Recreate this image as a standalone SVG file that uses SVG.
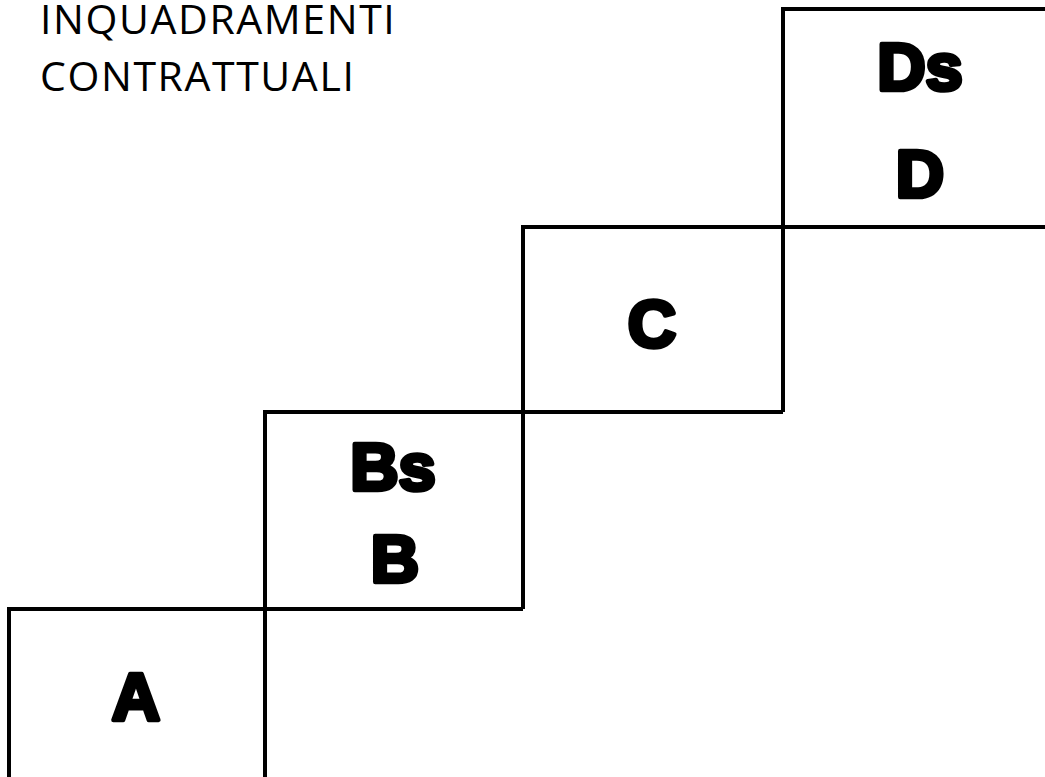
<svg xmlns="http://www.w3.org/2000/svg" width="1045" height="777" viewBox="0 0 1045 777">
<style>
.ln{fill:none;stroke:#000;stroke-width:4;stroke-linecap:butt}
.title{font-family:"Open Sans","Liberation Sans",sans-serif;font-size:41px;letter-spacing:1.6px;fill:#000}
.lbl{font-family:"Liberation Sans","DejaVu Sans",sans-serif;font-weight:bold;font-size:67px;fill:#000;stroke:#000;stroke-width:4.5;stroke-linejoin:round;text-anchor:middle}
</style>
<rect width="1045" height="777" fill="#fff"/>
<g id="title">
<text class="title" x="40" y="34">INQUADRAMENTI</text>
<text class="title" x="40" y="91">CONTRATTUALI</text>
</g>
<g id="connectors">
<polyline class="ln" points="9,777 9,609 523,609"/>
<polyline class="ln" points="265,777 265,412 783,412"/>
<polyline class="ln" points="523,609 523,227 1045,227"/>
<polyline class="ln" points="783,412 783,9 1045,9"/>
</g>
<g id="node-A"><text class="lbl" x="136" y="720">A</text></g>
<g id="node-B"><text class="lbl" x="393" y="490">Bs</text><text class="lbl" x="395" y="582">B</text></g>
<g id="node-C"><text class="lbl" x="652" y="347">C</text></g>
<g id="node-D"><text class="lbl" x="920" y="90">Ds</text><text class="lbl" x="920" y="197">D</text></g>
</svg>
